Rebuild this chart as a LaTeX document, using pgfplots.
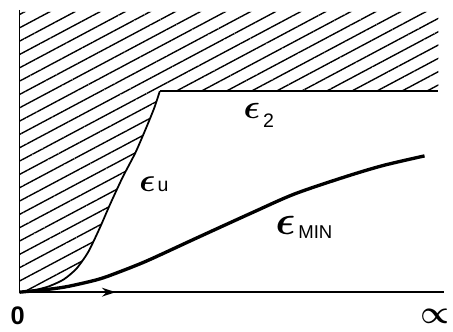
\documentclass[border=0pt]{standalone}
\usepackage{pgfplots}
\pgfplotsset{compat=1.18}
\usepackage{fontspec}
\setmainfont{Liberation Sans}
\usetikzlibrary{patterns.meta,arrows.meta}

% boundary eps_u (rising curve from the origin to the corner)
\pgfplotstableread{
x y
0 0
15 2
30 6
45 13
58 24
70 41
82 66
92 89
105 117
118 142
128 165
137 187
143 205
}\epsu

% minimum strain curve
\pgfplotstableread{
x y
0 0
30 3
50 6
80 13
100 20
130 32
180 55
237 81
280 100
330 117
370 129
413 139
}\epsmin

\begin{document}
\begin{tikzpicture}
\begin{axis}[
  scale only axis,
  width=453bp, height=338bp,
  xmin=-20, xmax=433, ymin=-40, ymax=298,
  axis line style={draw=none},
  ticks=none,
  clip=false,
]
% hatched (forbidden) region above eps_u and eps_2
\addplot[draw=none, pattern={Lines[angle=28, distance=12bp, line width=1.4bp]}, pattern color=black]
  coordinates {(0,0) (15,2) (30,6) (45,13) (58,24) (70,41) (82,66) (92,89) (105,117)
               (118,142) (128,165) (137,187) (143,205) (427,205) (427,286) (0,286)} -- cycle;

% axes
\addplot[line width=1.8bp, black] coordinates {(0,288) (0,0) (433,0)};
\addplot[line width=1.8bp, black, -{Stealth[length=14bp,width=9bp]}] coordinates {(60,0) (98,0)};

% eps_u and eps_2
\addplot[line width=1.8bp, black, smooth, tension=0.4] table {\epsu};
\addplot[line width=2bp, black] coordinates {(143,205) (427,205)};

% eps_min
\addplot[line width=3.4bp, black, smooth, tension=0.5] table {\epsmin};

% labels
\node[font=\fontsize{26}{26}\selectfont\bfseries] at (axis cs:-2,-24) {0};
\node at (axis cs:424,-25) {\scalebox{3.3}{\boldmath$\propto$}};
\node at (axis cs:137,110)
  {\scalebox{3.4}{\boldmath$\epsilon$}\kern2bp{\fontsize{20}{20}\selectfont u}};
\node at (axis cs:244,180)
  {\scalebox{3.5}{\boldmath$\epsilon$}\kern3bp\raisebox{-9bp}{\fontsize{20}{20}\selectfont 2}};
\node at (axis cs:290,66)
  {\scalebox{4.2}{\boldmath$\epsilon$}\kern3bp\raisebox{-4bp}{\fontsize{19}{19}\selectfont MIN}};
\end{axis}
\end{tikzpicture}
\end{document}
